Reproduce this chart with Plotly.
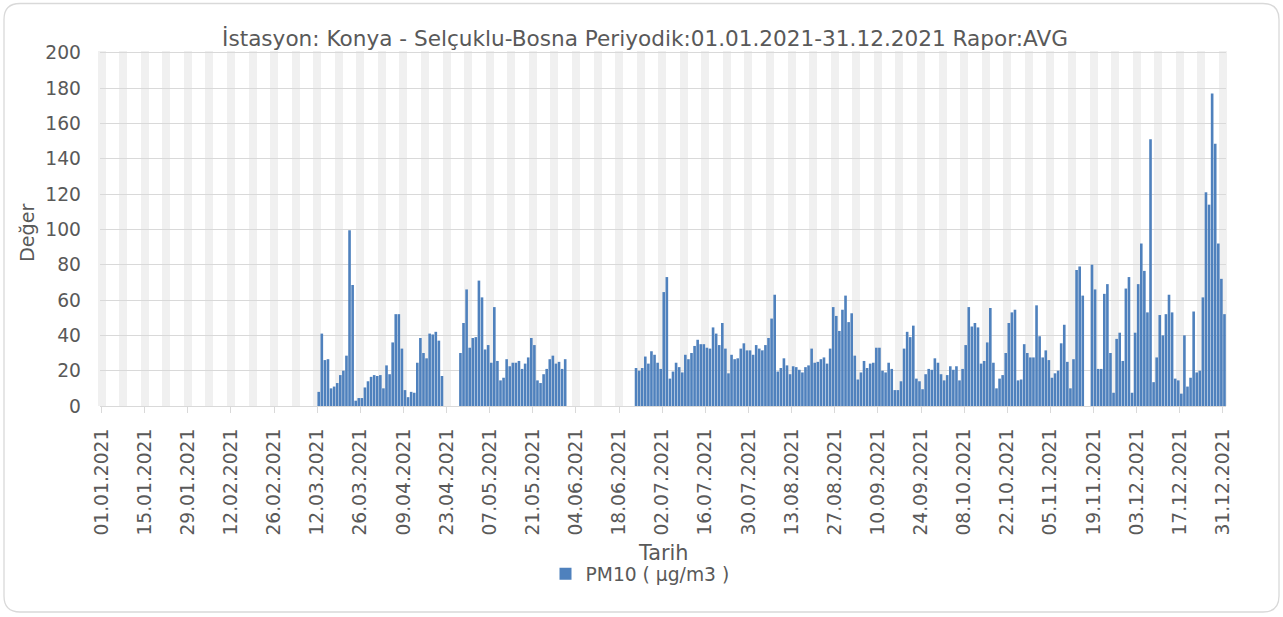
import numpy as np
import pandas as pd
import plotly.graph_objects as go

# ---------------- data ----------------
title_text = "İstasyon: Konya - Selçuklu-Bosna Periyodik:01.01.2021-31.12.2021 Rapor:AVG"
series_name = "PM10 ( µg/m3 )"
x_title = "Tarih"
y_title = "Değer"

year_start = "2021-01-01"
year_end = "2021-12-31"

seg1_start = "2021-03-12"
seg1_values = [8, 41, 26, 26.5, 10, 11, 13, 17.5, 20, 28.5, 99.5, 68.5, 3, 4.5, 4.5,
               10.5, 14, 16.5, 17.5, 17, 17.5, 10, 23, 18, 36, 52, 52, 32.5, 9, 5,
               8, 7.5, 24.5, 38.5, 30, 27, 41, 40.5, 42, 37, 17]

seg2_start = "2021-04-27"
seg2_values = [30, 47, 66, 33, 38.5, 39, 71, 61.5, 32, 34.5, 24.5, 56, 25.5, 14.5,
               16, 26.5, 22.5, 24.5, 24.5, 25.5, 21, 24, 27.5, 38.5, 34.5, 14.5, 13,
               18, 21, 26.5, 28.5, 24, 25, 21, 26.5]

seg3_start = "2021-06-23"
seg3_values = [21.5, 20, 21.5, 28, 24, 31, 29, 24.5, 21, 64.5, 73, 15.5, 19.5, 24.5,
               22, 19, 29, 26.5, 30, 34, 37.5, 35, 35, 33, 32.5, 44.5, 41, 34.5, 47,
               32.5, 18.5, 29, 26.5, 27, 32.5, 35.5, 31.5, 31.5, 29, 34.5, 32.5, 31.5,
               34.5, 38.5, 49.5, 63, 19.5, 21.5, 27, 23, 18, 22.5, 22, 20.5, 19, 22,
               23, 32.5, 24.5, 25, 26.5, 27.5, 24, 32.5, 56, 51, 42.5, 54.5, 62.5, 47.5,
               52.5, 28.5, 15, 19, 25.5, 21.5, 24, 24.5, 33, 33, 20, 19, 24.5, 21, 9,
               9, 14, 32.5, 42, 39, 45.5, 15.5, 14, 9.5, 18, 21, 20.5, 27, 24.5, 18,
               14.5, 17.5, 22.5, 20.5, 22.5, 14.5, 21, 34.5, 56, 45, 47, 44.5, 24,
               25.5, 36, 55.5, 24.5, 10, 15.5, 17.5, 30, 47, 53, 54.5, 14.5, 15, 35,
               30, 27.5, 27.5, 57, 39.5, 27.5, 31.5, 26, 16, 18.5, 20, 35.5, 46, 25,
               10, 26.5, 77, 79, 62.5]

seg4_start = "2021-11-18"
seg4_values = [80, 66, 21, 21, 63.5, 69, 30, 7.5, 38, 41.5, 25.5, 66.5, 73, 7.5, 41.5,
               69, 92, 76.5, 53, 151, 13.5, 27.5, 51.5, 40, 52, 63, 53, 15.5, 14.5, 7,
               40, 11, 16, 53.5, 19, 20, 61.5, 121, 114, 177, 148.5, 92, 72, 52]

y_ticks = [0, 20, 40, 60, 80, 100, 120, 140, 160, 180, 200]

# ---------------- build the daily series ----------------
dates = pd.date_range(year_start, year_end, freq="D")
vals = pd.Series(np.nan, index=dates)
for start, seg in [(seg1_start, seg1_values), (seg2_start, seg2_values),
                   (seg3_start, seg3_values), (seg4_start, seg4_values)]:
    idx = pd.date_range(start, periods=len(seg), freq="D")
    vals.loc[idx] = seg
y_vals = [None if np.isnan(v) else float(v) for v in vals.values]

# ---------------- geometry helpers ----------------
W, H = 1283, 617
ML, MR, MT, MB = 100, 57, 51, 211
PW, PH = W - ML - MR, H - MT - MB


def px_x(px):
    return (px - ML) / PW


def px_y(py):
    return (H - MB - py) / PH


FONT = "DejaVu Sans"
TXT = "#595959"
DAY = 86400000

fig = go.Figure()
fig.add_bar(
    x=dates, y=y_vals, name=series_name,
    xperiod=DAY, xperiodalignment="middle",
    marker=dict(color="#4F81BD", line=dict(width=0)),
    showlegend=True,
)

# rounded chart border
x0, x1, y0, y1, r = 4, 1279, 3.5, 612, 16
rx, ry = r / PW, r / PH
X0, X1, Y0, Y1 = px_x(x0), px_x(x1), px_y(y0), px_y(y1)
path = (f"M{X0 + rx},{Y0} L{X1 - rx},{Y0} Q{X1},{Y0} {X1},{Y0 - ry} "
        f"L{X1},{Y1 + ry} Q{X1},{Y1} {X1 - rx},{Y1} L{X0 + rx},{Y1} "
        f"Q{X0},{Y1} {X0},{Y1 + ry} L{X0},{Y0 - ry} Q{X0},{Y0} {X0 + rx},{Y0} Z")

fig.update_layout(
    width=W, height=H,
    margin=dict(l=ML, r=MR, t=MT, b=MB, pad=0),
    paper_bgcolor="white", plot_bgcolor="white",
    font=dict(family=FONT, color=TXT, size=18.7),
    bargap=0.15,
    title=dict(text=title_text, x=645 / W, y=1 - 38 / H, xref="container",
               yref="container", xanchor="center", yanchor="middle",
               font=dict(family=FONT, size=21.6, color=TXT)),
    xaxis=dict(
        type="date", range=["2020-12-31 12:00", "2022-01-01 00:00"],
        tick0=year_start, dtick=14 * DAY, tickformat="%d.%m.%Y", tickangle=-90,
        ticks="outside", ticklen=6, tickwidth=1.3, tickcolor="#d9d9d9",
        showline=True, linecolor="#d9d9d9", linewidth=1.3,
        showgrid=True, gridcolor="#f0f0f0", gridwidth=8,
        minor=dict(tick0=year_start, dtick=7 * DAY, showgrid=True,
                   gridcolor="#f0f0f0", gridwidth=8, ticks=""),
        tickfont=dict(family=FONT, size=18.7, color=TXT),
        ticklabelstandoff=8, zeroline=False,
    ),
    yaxis=dict(
        range=[0, 201], tickvals=y_ticks, ticks="",
        showgrid=True, gridcolor="#d9d9d9", gridwidth=1.3, zeroline=False,
        tickfont=dict(family=FONT, size=18.7, color=TXT),
        ticklabelstandoff=18,
    ),
    legend=dict(orientation="h", x=px_x(640), xanchor="center",
                y=px_y(574), yanchor="middle",
                font=dict(family=FONT, size=18.7, color=TXT),
                bgcolor="rgba(0,0,0,0)"),
    annotations=[
        dict(text=x_title, xref="paper", yref="paper", x=px_x(663), y=px_y(553),
             xanchor="center", yanchor="middle", showarrow=False,
             font=dict(family=FONT, size=20.8, color=TXT)),
        dict(text=y_title, xref="paper", yref="paper", x=px_x(27), y=px_y(233),
             xanchor="center", yanchor="middle", showarrow=False, textangle=-90,
             font=dict(family=FONT, size=19.2, color=TXT)),
    ],
    shapes=[dict(type="path", xref="paper", yref="paper", path=path,
                 line=dict(color="#d9d9d9", width=1.3), fillcolor="rgba(0,0,0,0)",
                 layer="below")],
)

fig.write_html("out.html", config={"displayModeBar": False},
               post_script="document.body.style.margin='0px';")
